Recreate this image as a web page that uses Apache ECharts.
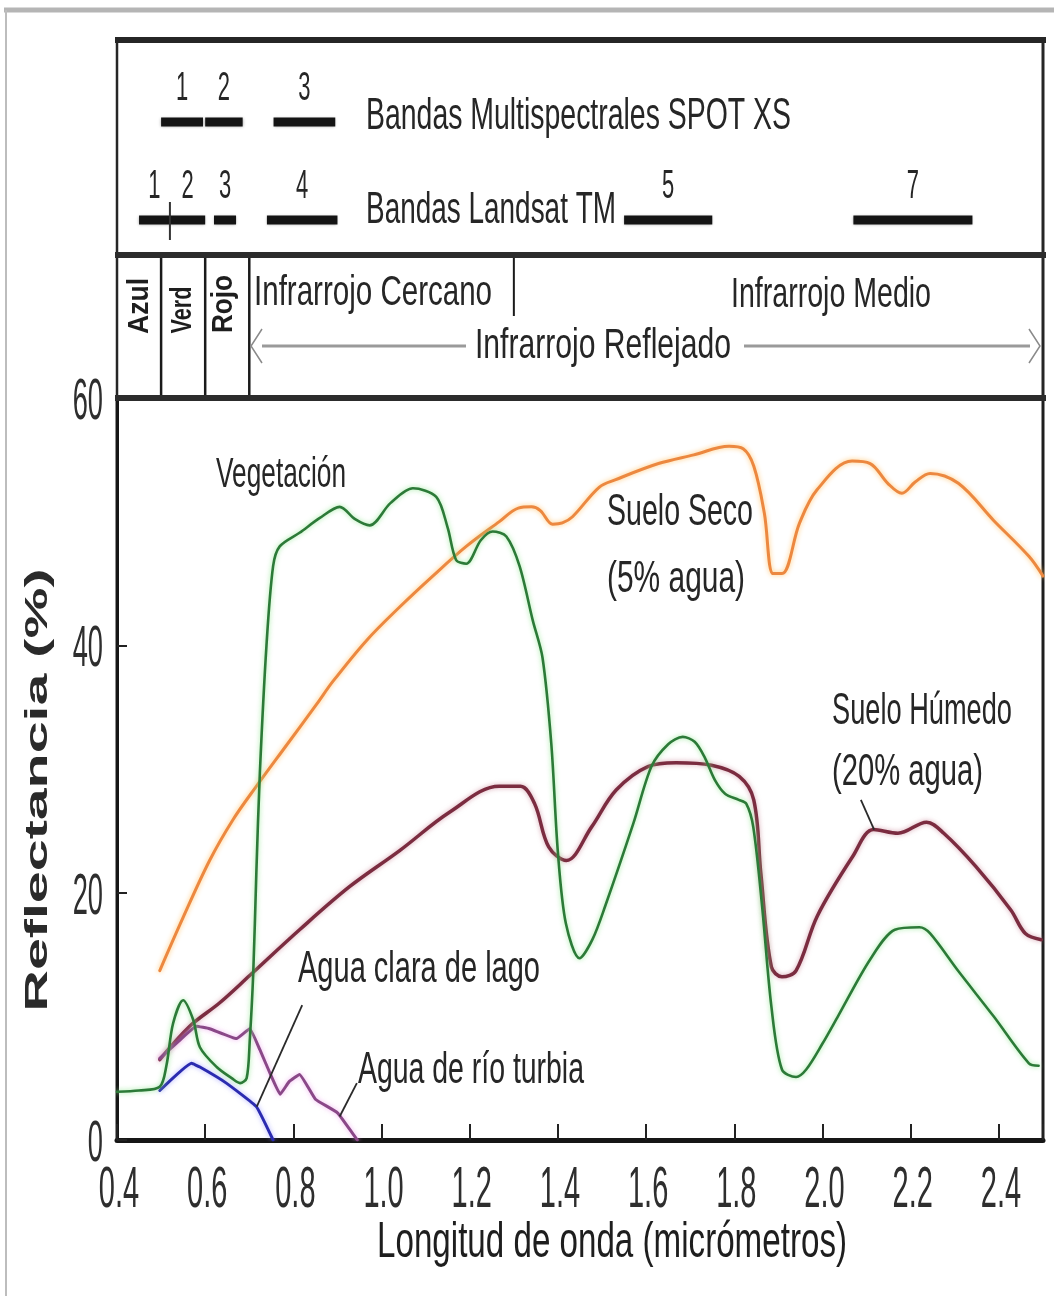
<!DOCTYPE html>
<html>
<head>
<meta charset="utf-8">
<title>Reflectancia espectral</title>
<script src="https://cdn.jsdelivr.net/npm/echarts@6/dist/echarts.min.js"></script>
<style>
  html, body { margin: 0; padding: 0; background: #ffffff; }
  #chart { width: 1054px; height: 1296px; }
</style>
</head>
<body>
<div id="chart"></div>
<script>
// ---- Data: reflectance curves, [wavelength (µm), reflectance (%)] ----
const vegetation = [
  [0.40, 3.9], [0.45, 4.0], [0.497, 4.3], [0.512, 6.0], [0.527, 9.4], [0.55, 11.3],
  [0.573, 9.7], [0.588, 7.5], [0.626, 5.9], [0.66, 5.0], [0.679, 4.6], [0.694, 5.0],
  [0.701, 8.0], [0.709, 13.5], [0.716, 21.6], [0.724, 29.7], [0.739, 40.0], [0.754, 46.4],
  [0.769, 48.0], [0.814, 49.1], [0.86, 50.3], [0.905, 51.2], [0.94, 50.2], [0.973, 49.7],
  [1.02, 51.5], [1.071, 52.7], [1.124, 52.0], [1.15, 49.5], [1.169, 46.9], [1.192, 46.6],
  [1.225, 48.5], [1.252, 49.2], [1.283, 48.8], [1.313, 46.4], [1.343, 42.0], [1.365, 39.0],
  [1.385, 32.0], [1.40, 23.2], [1.418, 17.5], [1.449, 14.7], [1.478, 16.2], [1.507, 18.9],
  [1.571, 25.6], [1.612, 30.2], [1.65, 32.0], [1.683, 32.6], [1.71, 32.2], [1.732, 31.0],
  [1.756, 29.1], [1.779, 28.0], [1.81, 27.5], [1.827, 27.2], [1.843, 25.3], [1.863, 18.9],
  [1.884, 10.8], [1.908, 5.7], [1.94, 5.1], [1.963, 5.7], [2.0, 7.8], [2.035, 10.0],
  [2.108, 14.6], [2.164, 17.0], [2.22, 17.2], [2.244, 16.7], [2.307, 13.7], [2.388, 10.0],
  [2.468, 6.2], [2.49, 6.0]
];
const drySoil = [
  [0.497, 13.7], [0.55, 18.0], [0.61, 22.6], [0.663, 25.9], [0.716, 28.6], [0.784, 31.9],
  [0.852, 35.2], [0.89, 37.1], [0.966, 40.4], [1.041, 43.1], [1.116, 45.6], [1.192, 48.0],
  [1.267, 50.0], [1.31, 51.1], [1.34, 51.2], [1.36, 50.9], [1.388, 49.8], [1.41, 49.9],
  [1.433, 50.4], [1.494, 52.8], [1.531, 53.4], [1.628, 54.7], [1.708, 55.4], [1.788, 56.1],
  [1.82, 55.9], [1.844, 54.5], [1.868, 50.7], [1.888, 45.8], [1.908, 45.8], [1.948, 49.9],
  [1.988, 52.6], [2.067, 54.9], [2.108, 54.7], [2.148, 53.1], [2.18, 52.3], [2.21, 53.2],
  [2.244, 53.9], [2.308, 53.1], [2.388, 50.1], [2.468, 47.2], [2.5, 45.6]
];
const wetSoil = [
  [0.497, 6.5], [0.565, 9.2], [0.633, 11.1], [0.701, 13.3], [0.814, 17.0], [0.928, 20.5],
  [1.041, 23.4], [1.154, 26.5], [1.267, 28.6], [1.315, 28.6], [1.347, 27.2], [1.379, 23.7],
  [1.419, 22.6], [1.476, 25.3], [1.532, 28.3], [1.604, 30.2], [1.668, 30.5], [1.748, 30.3],
  [1.811, 29.4], [1.844, 27.5], [1.86, 21.6], [1.884, 14.0], [1.908, 13.2], [1.94, 13.7],
  [1.988, 18.1], [2.068, 22.9], [2.116, 25.1], [2.171, 24.8], [2.236, 25.7], [2.275, 24.8],
  [2.348, 22.1], [2.427, 18.6], [2.46, 16.7], [2.496, 16.2]
];
const turbidWater = [
  [0.497, 6.6], [0.54, 8.0], [0.58, 9.2], [0.61, 9.0], [0.671, 8.2], [0.701, 9.0],
  [0.724, 7.3], [0.747, 5.4], [0.77, 3.7], [0.79, 4.7], [0.814, 5.3], [0.85, 3.3],
  [0.90, 2.2], [0.935, 0.5], [0.945, 0.0]
];
const clearWater = [
  [0.497, 4.0], [0.569, 6.2], [0.588, 5.9], [0.648, 4.6], [0.716, 2.7], [0.754, 0.0]
];

// ---- Leader lines from the curve labels to their curves ----
const lakeLeader = [[0.82, 10.9], [0.717, 2.7]];
const turbidLeader = [[0.944, 4.6], [0.905, 1.9]];
const wetLeader = [[2.087, 27.5], [2.117, 25.1]];

// ---- Sensor bands: [start µm, end µm, band number] ----
const spotBands = [[0.50, 0.595, 1], [0.60, 0.685, 2], [0.755, 0.895, 3]];
const landsatBands = [[0.45, 0.52, 1], [0.52, 0.60, 2], [0.62, 0.67, 3], [0.74, 0.90, 4], [1.55, 1.75, 5], [2.07, 2.34, 7]];
const landsatSplits = [0.52];

// ---- Spectral regions ----
const visibleEdges = [0.5, 0.6, 0.7];
const nirMirEdge = [1.3];

// ---- Axis ticks ----
const xTicks = [0.4, 0.6, 0.8, 1.0, 1.2, 1.4, 1.6, 1.8, 2.0, 2.2, 2.4];
const yTicks = [0, 20, 40, 60];

// ---- Layout ----
const FONT = '"Liberation Sans", Arial, "Noto Sans", sans-serif';
const BOX_TOP = 40, BAND_DIV = 255, PLOT_TOP = 398;
const SPOT_ROW_Y = 122, LANDSAT_ROW_Y = 220;
const TEXT = '#262626';

const measureCtx = document.createElement('canvas').getContext('2d');
function textWidth(str, size, weight) {
  measureCtx.font = (weight || 'normal') + ' ' + size + 'px ' + FONT;
  return measureCtx.measureText(str).width;
}
// Condensed text: a regular face squeezed to a given width (or scaled by sx).
function label(str, x, y, o) {
  const weight = o.weight || 'normal';
  const w = textWidth(str, o.size, weight);
  const sx = o.width ? o.width / w : (o.sx || 1);
  const align = o.align || 'left';
  return {
    type: 'text', x: x, y: y, rotation: o.rot || 0, scaleX: sx, scaleY: o.sy || 1, z: 20,
    style: {
      text: str, font: weight + ' ' + o.size + 'px ' + FONT, fill: o.color || TEXT,
      align: align, verticalAlign: 'middle', textAlign: align, textVerticalAlign: 'middle'
    }
  };
}
function textEl(str, x, y, size, sx, align, color) {
  return {
    type: 'text', x: x, y: y, scaleX: sx, z2: 20,
    style: {
      text: str, font: 'normal ' + size + 'px ' + FONT, fill: color || TEXT,
      align: align, verticalAlign: 'middle', textAlign: align, textVerticalAlign: 'middle'
    }
  };
}
function hline(x1, x2, y, w, c) {
  return { type: 'line', z: 15, shape: { x1: x1, y1: y, x2: x2, y2: y }, style: { stroke: c || '#262626', lineWidth: w } };
}
function vline(x, y1, y2, w, c) {
  return { type: 'line', z: 15, shape: { x1: x, y1: y1, x2: x, y2: y2 }, style: { stroke: c || '#262626', lineWidth: w } };
}

function curve(name, data, color, width, glow, smooth) {
  return {
    name: name, type: 'line', data: data, showSymbol: false, symbol: 'none',
    smooth: smooth, silent: true,
    lineStyle: { color: color, width: width, shadowColor: glow, shadowBlur: 5, cap: 'round', join: 'round' },
    z: 5
  };
}
function leader(data) {
  return {
    type: 'line', data: data, showSymbol: false, symbol: 'none', silent: true,
    lineStyle: { color: '#2a2a2a', width: 1.8 }, z: 6
  };
}

// Band bars in the header, placed on the plot's wavelength scale
function bandRenderer(rowY) {
  return function (params, api) {
    const x1 = api.coord([api.value(0), 0])[0];
    const x2 = api.coord([api.value(1), 0])[0];
    return {
      type: 'group',
      children: [
        { type: 'rect', shape: { x: x1, y: rowY - 4.5, width: x2 - x1, height: 9 },
          style: { fill: '#141414', shadowColor: 'rgba(0,0,0,0.35)', shadowBlur: 3 } },
        textEl(String(api.value(2)), (x1 + x2) / 2, rowY - 33, 40, 0.55, 'center')
      ]
    };
  };
}

const chart = echarts.init(document.getElementById('chart'), null, { renderer: 'canvas' });

const option = {
  animation: false,
  backgroundColor: '#ffffff',
  grid: {
    left: 117, right: 11, top: PLOT_TOP, bottom: 156,
    show: true, borderColor: '#1e1e1e', borderWidth: 3, backgroundColor: 'transparent'
  },
  xAxis: {
    type: 'value', min: 0.4, max: 2.5, interval: 0.2,
    axisLine: { show: true, onZero: false, lineStyle: { color: '#161616', width: 5 } },
    axisTick: { show: true, inside: true, length: 16, lineStyle: { color: '#222', width: 2 } },
    axisLabel: { show: false },
    splitLine: { show: false }
  },
  yAxis: {
    type: 'value', min: 0, max: 60, interval: 20,
    axisLine: { show: true, onZero: false, lineStyle: { color: '#161616', width: 3 } },
    axisTick: { show: true, inside: true, length: 10, lineStyle: { color: '#222', width: 2 } },
    axisLabel: { show: false },
    splitLine: { show: false }
  },
  series: [
    curve('Suelo Seco', drySoil, '#ec8840', 3, 'rgba(255,196,110,0.95)', 0.35),
    curve('Suelo Húmedo', wetSoil, '#7b2c40', 3.5, 'rgba(190,110,130,0.6)', 0.35),
    curve('Agua de río turbia', turbidWater, '#8a4888', 3, 'rgba(235,150,235,0.7)', 0.1),
    curve('Agua clara de lago', clearWater, '#2b2bb0', 3, 'rgba(120,120,255,0.6)', 0.1),
    curve('Vegetación', vegetation, '#2c7a38', 2.6, 'rgba(140,230,140,0.85)', 0.3),
    leader(lakeLeader),
    leader(turbidLeader),
    leader(wetLeader),
    // SPOT XS bands
    {
      type: 'custom', silent: true, z: 8, data: spotBands, encode: { x: [0, 1], y: 2 },
      renderItem: bandRenderer(SPOT_ROW_Y)
    },
    // Landsat TM bands
    {
      type: 'custom', silent: true, z: 8, data: landsatBands, encode: { x: [0, 1], y: 2 },
      renderItem: bandRenderer(LANDSAT_ROW_Y)
    },
    // Separator between Landsat TM bands 1 and 2
    {
      type: 'custom', silent: true, z: 8, data: landsatSplits.map(v => [v, 0]), encode: { x: 0, y: 1 },
      renderItem: function (params, api) {
        const x = api.coord([api.value(0), 0])[0];
        return { type: 'line', shape: { x1: x, y1: LANDSAT_ROW_Y - 18, x2: x, y2: LANDSAT_ROW_Y + 20 },
          style: { stroke: '#333', lineWidth: 2 } };
      }
    },
    // Azul / Verde / Rojo boundaries
    {
      type: 'custom', silent: true, z: 8, data: visibleEdges.map(v => [v, 0]), encode: { x: 0, y: 1 },
      renderItem: function (params, api) {
        const x = api.coord([api.value(0), 0])[0];
        return { type: 'line', shape: { x1: x, y1: BAND_DIV, x2: x, y2: PLOT_TOP },
          style: { stroke: '#1a1a1a', lineWidth: 2.5 } };
      }
    },
    // Near / middle infrared boundary
    {
      type: 'custom', silent: true, z: 8, data: nirMirEdge.map(v => [v, 0]), encode: { x: 0, y: 1 },
      renderItem: function (params, api) {
        const x = api.coord([api.value(0), 0])[0];
        return { type: 'line', shape: { x1: x, y1: BAND_DIV, x2: x, y2: 316 },
          style: { stroke: '#1a1a1a', lineWidth: 2 } };
      }
    },
    // Wavelength tick labels
    {
      type: 'custom', silent: true, z: 8, data: xTicks.map(v => [v, 0]), encode: { x: 0, y: 1 },
      renderItem: function (params, api) {
        const p = api.coord([api.value(0), 0]);
        return textEl(api.value(0).toFixed(1), p[0] + 2, p[1] + 51, 58, 0.5, 'center', '#2e2e2e');
      }
    },
    // Reflectance tick labels
    {
      type: 'custom', silent: true, z: 8, data: yTicks.map(v => [0.4, v]), encode: { x: 0, y: 1 },
      renderItem: function (params, api) {
        const p = api.coord([api.value(0), api.value(1)]);
        return textEl(String(api.value(1)), p[0] - 14, p[1] + 5, 58, 0.47, 'right', '#2e2e2e');
      }
    }
  ],
  graphic: [
    // outer frame
    hline(4, 1054, 10, 5, '#b5b5b5'),
    vline(6, 10, 1296, 2, '#bdbdbd'),
    // header box
    hline(115, 1046, BOX_TOP, 6),
    vline(117, BOX_TOP, PLOT_TOP, 2.5),
    vline(1043, BOX_TOP, PLOT_TOP, 3),
    hline(115, 1046, BAND_DIV, 6, '#2c2c2c'),
    hline(115, 1046, PLOT_TOP, 6, '#2c2c2c'),
    // band captions
    label('Bandas Multispectrales SPOT XS', 366, 117, { size: 44, width: 425 }),
    label('Bandas Landsat TM', 366, 211, { size: 44, width: 250 }),
    // spectral region captions
    label('Azul', 140, 306, { size: 29, weight: 'bold', rot: Math.PI / 2, width: 56, align: 'center', color: '#1e1e1e' }),
    label('Verd', 183, 310, { size: 29, weight: 'bold', rot: Math.PI / 2, width: 47, align: 'center', color: '#1e1e1e' }),
    label('Rojo', 224, 304, { size: 29, weight: 'bold', rot: Math.PI / 2, width: 58, align: 'center', color: '#1e1e1e' }),
    label('Infrarrojo Cercano', 254, 293, { size: 42, width: 238 }),
    label('Infrarrojo Medio', 731, 295, { size: 42, width: 200 }),
    label('Infrarrojo Reflejado', 475, 346, { size: 42, width: 256 }),
    // reflected infrared span arrow
    hline(262, 466, 346, 3, '#9a9a9a'),
    hline(744, 1030, 346, 3, '#9a9a9a'),
    { type: 'polyline', z: 15, shape: { points: [[262, 329], [251, 346], [262, 363]] }, style: { stroke: '#8a8a8a', lineWidth: 1.5, fill: null } },
    { type: 'polyline', z: 15, shape: { points: [[1029, 329], [1040, 346], [1029, 363]] }, style: { stroke: '#8a8a8a', lineWidth: 1.5, fill: null } },
    // curve labels
    label('Vegetación', 216, 475, { size: 42, width: 130 }),
    label('Suelo Seco', 607, 513, { size: 44, width: 146 }),
    label('(5% agua)', 607, 580, { size: 44, width: 138 }),
    label('Suelo Húmedo', 832, 712, { size: 44, width: 180 }),
    label('(20% agua)', 832, 773, { size: 44, width: 151 }),
    label('Agua clara de lago', 298, 970, { size: 44, width: 242 }),
    label('Agua de río turbia', 358, 1071, { size: 44, width: 226 }),
    // axis titles
    label('Reflectancia (%)', 38, 790, { size: 32, weight: 'bold', rot: Math.PI / 2, width: 443, align: 'center', color: '#2a2a2a' }),
    label('Longitud de onda (micrómetros)', 612, 1243, { size: 50, width: 470, align: 'center', color: '#1e1e1e' })
  ]
};

chart.setOption(option);
</script>
</body>
</html>
